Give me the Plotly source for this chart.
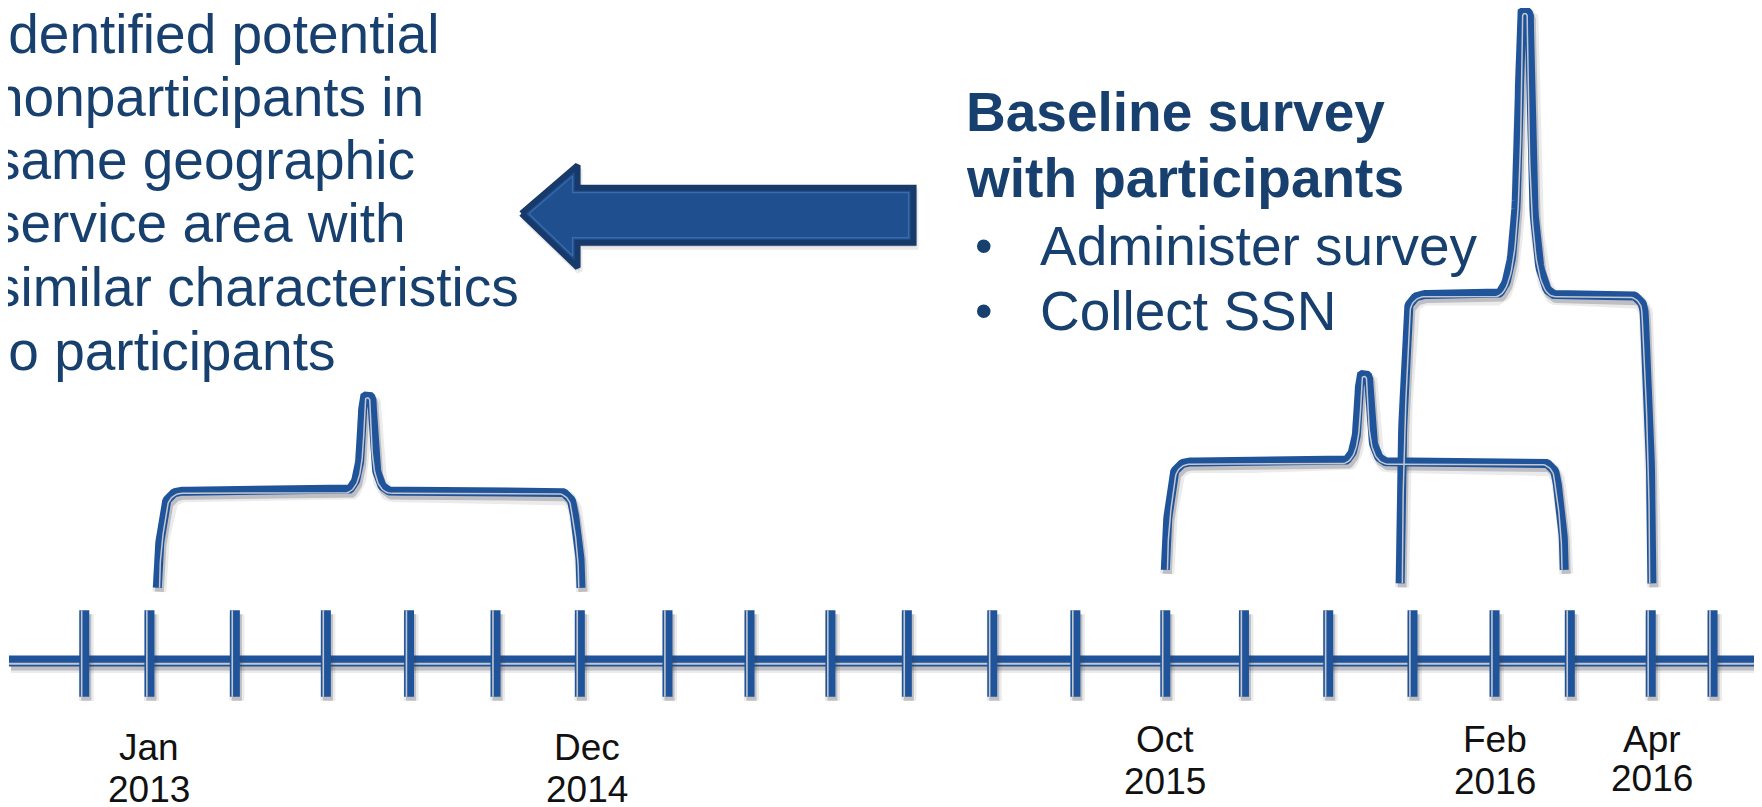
import numpy as np
import plotly.graph_objects as go

# axis units follow the reference drawing (1568 x 718), rendered at 1762 x 807
W_PX, H_PX = 1762, 807
S = W_PX / 1568  # pixels per axis unit
PAGE = 8 / S     # the page body margin shifts the plot by 8 px

# timeline
axis_y = 588
axis_x0, axis_x1 = 8, 1568
tick_x = [75, 133, 209, 290, 364, 441, 516, 594, 667, 739, 807, 883,
          957, 1037, 1107, 1182, 1257, 1330, 1397, 1469, 1524]
tick_top, tick_bottom = 543, 620

date_month = ["Jan", "Dec", "Oct", "Feb", "Apr"]
date_year = ["2013", "2014", "2015", "2016", "2016"]
date_x = [133, 522, 1037, 1330, 1470]
date_y_month = [665, 665, 658, 658, 658]
date_y_year = [702, 702, 695, 695, 693]

# brackets: left leg, right leg, peak, leg bottom, bar, peak top
br_left = [140, 1037, 1246]
br_right = [517, 1392, 1470]
br_peak = [327, 1214, 1357]
br_bottom = [523, 507, 519]
br_bar = [437, 411, 262]
br_top = [352, 333, 10]

# block arrow pointing left
arrow_x = [464, 514, 514, 813, 813, 514, 514]
arrow_y = [190, 147, 167, 167, 216, 216, 238]

left_lines = ["Identified potential", "nonparticipants in", "same geographic",
              "service area with", "similar characteristics", "to participants"]
left_y = [30, 86, 142, 198, 255, 312]
left_x = -8

head_lines = ["Baseline survey", "with participants"]
head_y = [100, 158]
bullet_lines = ["Administer survey", "Collect SSN"]
bullet_y = [219, 277]

BLUE = "#20549A"
GRAY = "#C4C7CE"
NAVY = "#17406F"


def shift(px, py, d):
    # move a polyline sideways by d screen pixels (right-hand side of travel)
    x = np.asarray(px, float)
    y = np.asarray(py, float)
    dx = np.gradient(x)
    dy = np.gradient(y)
    n = np.hypot(dx, dy)
    n[n == 0] = 1
    return x - dy / n * d / S, y + dx / n * d / S


def bez(p0, p1, p2, p3, n=40):
    t = np.linspace(0, 1, n)[1:, None]
    p = ((1 - t) ** 3 * np.array(p0) + 3 * (1 - t) ** 2 * t * np.array(p1)
         + 3 * (1 - t) * t ** 2 * np.array(p2) + t ** 3 * np.array(p3))
    return p[:, 0], p[:, 1]


def half_bracket(xl, xp, yb, yh, yt, lean=7, r=15, w=22):
    t = np.linspace(0, 1, 30)
    lx = xl + lean * t ** 2
    ly = yb + (yh + r - yb) * t
    a = np.linspace(np.pi, 1.5 * np.pi, 16)[1:]
    cx, cy = xl + lean + r, yh + r
    ax = cx + r * np.cos(a)
    ay = cy + r * np.sin(a)
    hx = np.linspace(cx, xp - w, 30)[1:]
    hy = np.full_like(hx, yh)
    H = yh - yt
    rt = 4
    sx, sy = bez((xp - w, yh), (xp - 0.3 * w, yh), (xp - 6, yh - 0.3 * H), (xp - rt, yt + rt))
    a = np.linspace(np.pi, 1.5 * np.pi, 8)[1:]
    tx = xp + rt * np.cos(a)
    ty = yt + rt + rt * np.sin(a)
    return np.concatenate([lx, ax, hx, sx, tx]), np.concatenate([ly, ay, hy, sy, ty])


def bracket(xl, xr, xp, yb, yh, yt):
    w = 27 if yh - yt > 150 else 22
    lx, ly = half_bracket(xl, xp, yb, yh, yt, w=w)
    rx, ry = half_bracket(2 * xp - xr, xp, yb, yh, yt, w=w)
    rx = (2 * xp - rx)[::-1][1:]
    ry = ry[::-1][1:]
    return np.concatenate([lx, rx]), np.concatenate([ly, ry])


def join(parts):
    xs, ys = [], []
    for x, y in parts:
        xs += list(x) + [None]
        ys += list(y) + [None]
    return xs, ys


def inset_polygon(px, py, m):
    # offset each edge inward by m pixels and intersect neighbours
    x = np.asarray(px, float)
    y = np.asarray(py, float)
    k = len(x)
    lines = []
    for i in range(k):
        x1, y1, x2, y2 = x[i], y[i], x[(i + 1) % k], y[(i + 1) % k]
        dx, dy = x2 - x1, y2 - y1
        n = np.hypot(dx, dy)
        ox, oy = -dy / n * m / S, dx / n * m / S
        lines.append((x1 + ox, y1 + oy, dx, dy))
    out_x, out_y = [], []
    for i in range(k):
        ax, ay, adx, ady = lines[i - 1]
        bx, by, bdx, bdy = lines[i]
        den = adx * bdy - ady * bdx
        s = ((bx - ax) * bdy - (by - ay) * bdx) / den
        out_x.append(ax + s * adx)
        out_y.append(ay + s * ady)
    return out_x + [out_x[0]], out_y + [out_y[0]]


fig = go.Figure()


def compound(parts, width, gray_off, gray_w, shadow=True):
    if shadow:
        sh = [(np.asarray(x, float) + 2 / S, np.asarray(y, float) + 4 / S) for x, y in parts]
        sx, sy = join(sh)
        fig.add_trace(go.Scatter(x=sx, y=sy, mode="lines", hoverinfo="skip",
                                 line=dict(color="rgba(60,60,70,0.10)", width=width + 5)))
        fig.add_trace(go.Scatter(x=sx, y=sy, mode="lines", hoverinfo="skip",
                                 line=dict(color="rgba(60,60,70,0.25)", width=width)))
    bx, by = join(parts)
    fig.add_trace(go.Scatter(x=bx, y=by, mode="lines", hoverinfo="skip",
                             line=dict(color=BLUE, width=width)))
    gx, gy = join([shift(x, y, gray_off) for x, y in parts])
    fig.add_trace(go.Scatter(x=gx, y=gy, mode="lines", hoverinfo="skip",
                             line=dict(color=GRAY, width=gray_w)))


# brackets
brackets = [bracket(*b) for b in zip(br_left, br_right, br_peak, br_bottom, br_bar, br_top)]
compound(brackets, 9, 2.2, 1.5)

# main axis line and ticks
axis_part = [(np.linspace(axis_x0, axis_x1 + 20, 50), np.full(50, axis_y))]
compound(axis_part, 11, 2.8, 2)
ticks = [(np.full(20, tx), np.linspace(tick_top, tick_bottom, 20)) for tx in tick_x]
compound(ticks, 10, 2.6, 1.6)

# arrow
ax_closed = arrow_x + [arrow_x[0]]
ay_closed = arrow_y + [arrow_y[0]]
fig.add_trace(go.Scatter(x=[v + 2 / S for v in ax_closed], y=[v + 4 / S for v in ay_closed],
                         mode="lines", fill="toself", hoverinfo="skip",
                         fillcolor="rgba(60,60,70,0.15)", line=dict(color="rgba(60,60,70,0.1)", width=6)))
fig.add_trace(go.Scatter(x=ax_closed, y=ay_closed, mode="lines", fill="toself", hoverinfo="skip",
                         fillcolor="#1F4F8F", line=dict(color="#173A6A", width=6)))
ix, iy = inset_polygon(arrow_x, arrow_y, 5)
fig.add_trace(go.Scatter(x=ix, y=iy, mode="lines", hoverinfo="skip",
                         line=dict(color="#3A6BAA", width=1.3)))

annotations = []
for txt, yy in zip(left_lines, left_y):
    annotations.append(dict(x=(left_x * S - 8) / W_PX, xref="paper", y=yy, yref="y",
                            text=txt, xanchor="left", yanchor="middle",
                            font=dict(family="Liberation Sans, Arial", size=55, color=NAVY)))
for txt, yy in zip(head_lines, head_y):
    annotations.append(dict(x=858, y=yy, text="<b>" + txt + "</b>", xanchor="left", yanchor="middle",
                            font=dict(family="Liberation Sans, Arial", size=55, color=NAVY)))
for txt, yy in zip(bullet_lines, bullet_y):
    annotations.append(dict(x=866, y=yy, text="•", xanchor="left", yanchor="middle",
                            font=dict(family="Liberation Sans, Arial", size=50, color=NAVY)))
    annotations.append(dict(x=924, y=yy, text=txt, xanchor="left", yanchor="middle",
                            font=dict(family="Liberation Sans, Arial", size=55, color=NAVY)))
date_font = dict(family="Liberation Sans, Arial", size=37, color="#111111")
for m, yr, xx, ym, yy in zip(date_month, date_year, date_x, date_y_month, date_y_year):
    annotations.append(dict(x=xx, y=ym, text=m, xanchor="center", yanchor="middle", font=date_font))
    annotations.append(dict(x=xx, y=yy, text=yr, xanchor="center", yanchor="middle", font=date_font))

for a in annotations:
    a.setdefault("xref", "x")
    a.setdefault("yref", "y")
    a["showarrow"] = False

fig.update_layout(
    width=W_PX, height=H_PX,
    margin=dict(l=0, r=0, t=0, b=0),
    paper_bgcolor="white", plot_bgcolor="white",
    showlegend=False,
    xaxis=dict(range=[PAGE, 1568 + PAGE], visible=False, fixedrange=True),
    yaxis=dict(range=[718 + PAGE, PAGE], visible=False, fixedrange=True),
    annotations=annotations,
)

fig.write_html("out.html")
